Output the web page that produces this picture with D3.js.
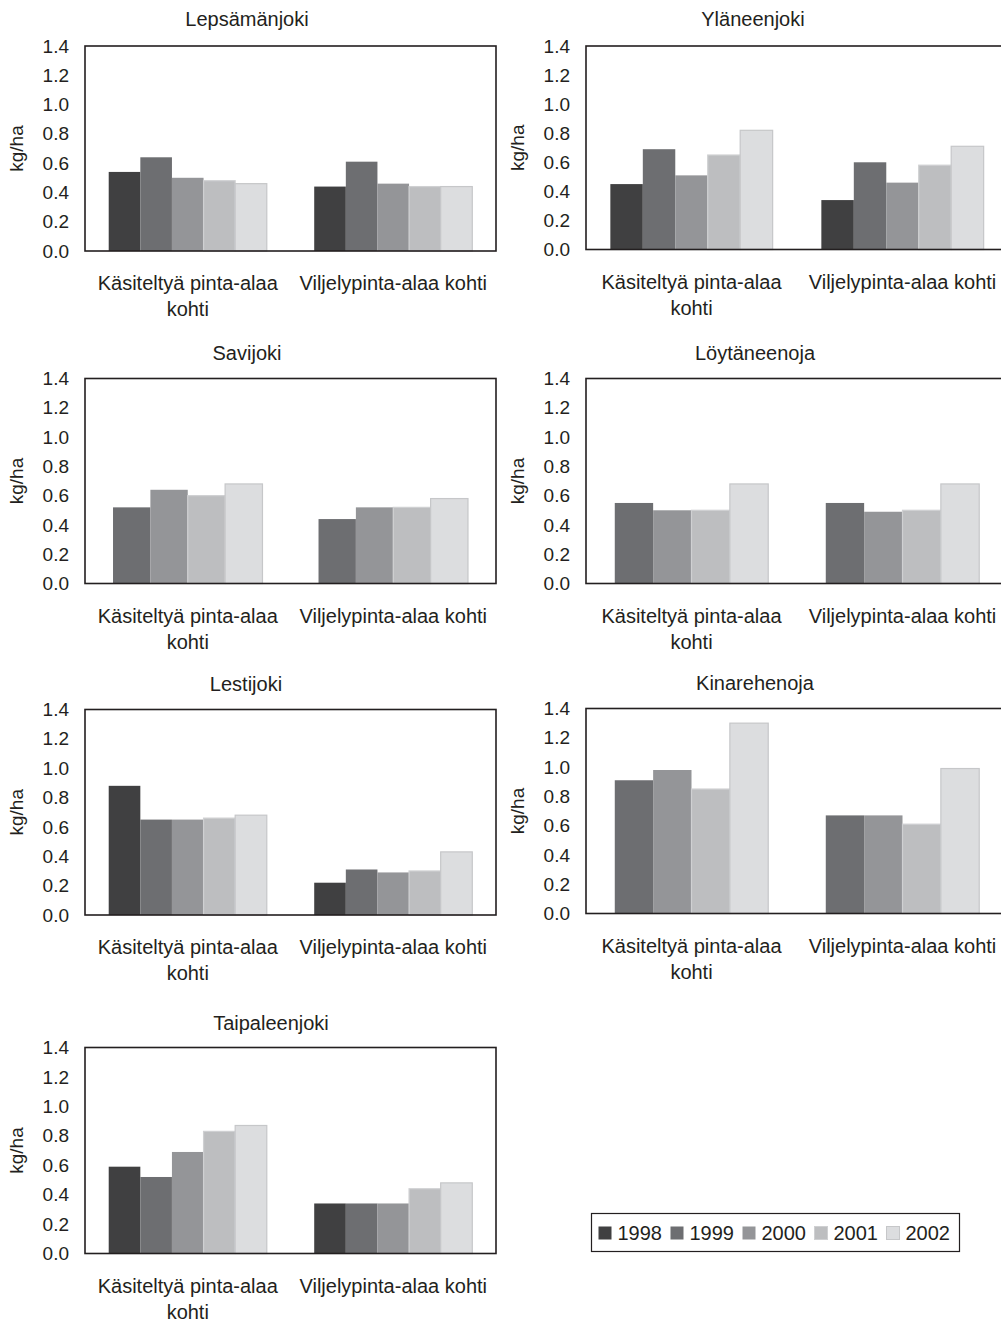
<!DOCTYPE html>
<html>
<head>
<meta charset="utf-8">
<script src="https://cdn.jsdelivr.net/npm/d3@7"></script>
<style>
  html, body { margin: 0; padding: 0; background: #ffffff; }
  svg { display: block; }
  text { font-family: "Liberation Sans", Arial, Helvetica, sans-serif; fill: #231f20; }
</style>
</head>
<body>
<svg id="chart" width="1001" height="1321"></svg>
<script>
// Phosphorus load per area, kg/ha, by catchment and year
const years = ["1998", "1999", "2000", "2001", "2002"];
const categories = ["Käsiteltyä pinta-alaa kohti", "Viljelypinta-alaa kohti"];
const categoryLines = [["Käsiteltyä pinta-alaa", "kohti"], ["Viljelypinta-alaa kohti"]];
const yTicks = [0, 0.2, 0.4, 0.6, 0.8, 1.0, 1.2, 1.4];
const yLabel = "kg/ha";

const rivers = ["Lepsämänjoki", "Yläneenjoki", "Savijoki", "Löytäneenoja",
                "Lestijoki", "Kinarehenoja", "Taipaleenjoki"];

// one row per category, one value per year (null = no data for that year)
const lepsamanjoki  = [[0.54, 0.64, 0.50, 0.48, 0.46], [0.44, 0.61, 0.46, 0.44, 0.44]];
const ylaneenjoki   = [[0.45, 0.69, 0.51, 0.65, 0.82], [0.34, 0.60, 0.46, 0.58, 0.71]];
const savijoki      = [[null, 0.52, 0.64, 0.60, 0.68], [null, 0.44, 0.52, 0.52, 0.58]];
const loytaneenoja  = [[null, 0.55, 0.50, 0.50, 0.68], [null, 0.55, 0.49, 0.50, 0.68]];
const lestijoki     = [[0.88, 0.65, 0.65, 0.66, 0.68], [0.22, 0.31, 0.29, 0.30, 0.43]];
const kinarehenoja  = [[null, 0.91, 0.98, 0.85, 1.30], [null, 0.67, 0.67, 0.61, 0.99]];
const taipaleenjoki = [[0.59, 0.52, 0.69, 0.83, 0.87], [0.34, 0.34, 0.34, 0.44, 0.48]];
const riverValues = [lepsamanjoki, ylaneenjoki, savijoki, loytaneenoja,
                     lestijoki, kinarehenoja, taipaleenjoki];

// appearance
const yearColors = ["#404041", "#6d6e71", "#949598", "#bdbec0", "#dcdddf"];
const yearStrokes = ["none", "none", "none", "#cfd0d2", "#c6c7c9"];
const tickFont = 19;
const textFont = 20;

// panel frames: plot box, title position
const panels = [
  { x0: 85,  x1: 496,  top: 46,    bottom: 251,    titleX: 247, titleY: 26 },
  { x0: 586, x1: 1008, top: 46,    bottom: 249.5,  titleX: 753, titleY: 26 },
  { x0: 85,  x1: 496,  top: 378.5, bottom: 583.5,  titleX: 247, titleY: 359.5 },
  { x0: 586, x1: 1008, top: 378.5, bottom: 583.5,  titleX: 755, titleY: 359.5 },
  { x0: 85,  x1: 496,  top: 709.5, bottom: 915,    titleX: 246, titleY: 691 },
  { x0: 586, x1: 1008, top: 708.5, bottom: 913.5,  titleX: 755, titleY: 690 },
  { x0: 85,  x1: 496,  top: 1047.5, bottom: 1253.5, titleX: 271, titleY: 1030 }
];

const svg = d3.select("#chart");
svg.append("rect").attr("width", 1001).attr("height", 1321).attr("fill", "#ffffff");

rivers.forEach((name, i) => {
  const p = panels[i];
  const vals = riverValues[i];
  const g = svg.append("g");

  // years present in this catchment
  const present = years.filter((y, k) => vals.some(row => row[k] !== null));

  const x = d3.scaleBand().domain(categories).range([p.x0, p.x1]).paddingInner(0).paddingOuter(0);
  const xs = d3.scaleBand().domain(present).range([0, x.bandwidth()]).paddingInner(0).paddingOuter(0.75);
  const y = d3.scaleLinear().domain([0, 1.4]).range([p.bottom, p.top]);

  // bars
  categories.forEach((cat, c) => {
    const data = years.map((yr, k) => ({ yr, k, v: vals[c][k] })).filter(d => d.v !== null);
    g.append("g").selectAll("rect").data(data).join("rect")
      .attr("x", d => x(cat) + xs(d.yr))
      .attr("y", d => y(d.v))
      .attr("width", xs.bandwidth())
      .attr("height", d => y(0) - y(d.v))
      .attr("fill", d => yearColors[d.k])
      .attr("stroke", d => yearStrokes[d.k])
      .attr("stroke-width", 1.2);
  });

  // plot frame
  g.append("rect")
    .attr("x", p.x0).attr("y", p.top)
    .attr("width", p.x1 - p.x0).attr("height", p.bottom - p.top)
    .attr("fill", "none").attr("stroke", "#231f20").attr("stroke-width", 1.6);

  // y axis labels
  const ya = g.append("g").attr("transform", `translate(${p.x0},0)`)
    .call(d3.axisLeft(y).tickValues(yTicks).tickFormat(d3.format(".1f")).tickSize(0).tickPadding(16));
  ya.select(".domain").remove();
  ya.selectAll("text").attr("font-size", tickFont).style("font-family", null).attr("fill", "#231f20");

  // x axis category labels, wrapped
  const xa = g.append("g").attr("transform", `translate(0,${p.bottom})`)
    .call(d3.axisBottom(x).tickSize(0).tickPadding(0));
  xa.select(".domain").remove();
  xa.selectAll("text").each(function(d) {
    const t = d3.select(this).text(null)
      .attr("font-size", textFont).attr("fill", "#231f20").attr("y", 0).attr("dy", null);
    categoryLines[categories.indexOf(d)].forEach((line, li) => {
      t.append("tspan").attr("x", 0).attr("y", 39 + li * 26).text(line);
    });
  });

  // axis title
  g.append("text")
    .attr("transform", `translate(${p.x0 - 62},${(p.top + p.bottom) / 2}) rotate(-90)`)
    .attr("text-anchor", "middle").attr("font-size", tickFont)
    .text(yLabel);

  // panel title
  g.append("text").attr("x", p.titleX).attr("y", p.titleY)
    .attr("text-anchor", "middle").attr("font-size", textFont)
    .text(name);
});

// legend
const legend = svg.append("g");
legend.append("rect").attr("x", 591.5).attr("y", 1213.5).attr("width", 368).attr("height", 38)
  .attr("fill", "#ffffff").attr("stroke", "#231f20").attr("stroke-width", 1.2);
const lx = d3.scalePoint().domain(years).range([598.5, 598.5 + 4 * 72]);
const item = legend.selectAll("g.item").data(years).join("g").attr("class", "item")
  .attr("transform", d => `translate(${lx(d)},1226.5)`);
item.append("rect").attr("width", 13).attr("height", 13)
  .attr("fill", (d, k) => yearColors[k])
  .attr("stroke", (d, k) => yearStrokes[k]).attr("stroke-width", 1);
item.append("text").attr("x", 19).attr("y", 13.5).attr("font-size", textFont).text(d => d);
</script>
</body>
</html>
